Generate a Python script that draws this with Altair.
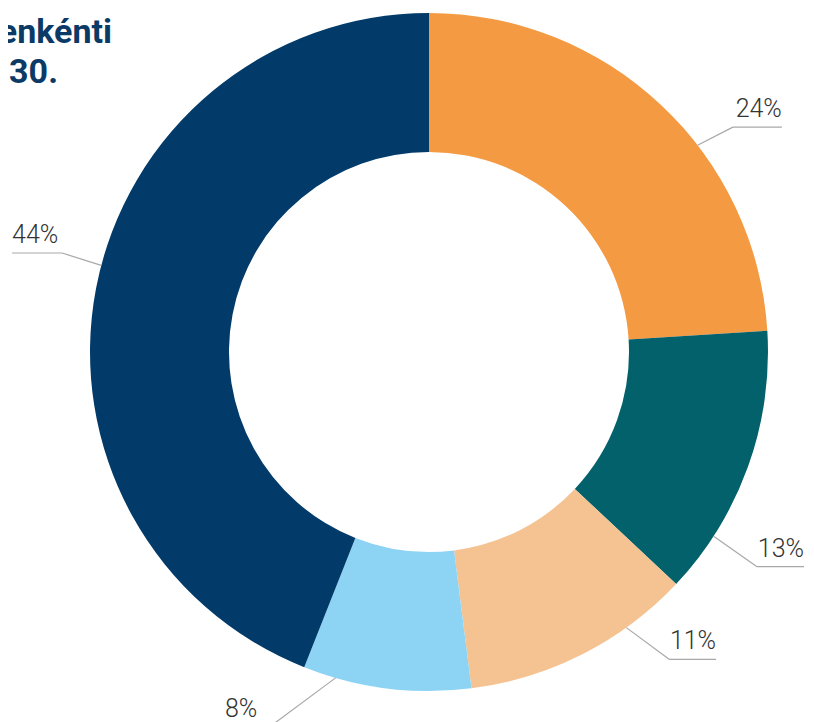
import altair as alt
import pandas as pd
import numpy as np

# ---- data ----
segments = ["1", "2", "3", "4", "5"]
shares = [24, 13, 11, 8, 44]
labels = ["24%", "13%", "11%", "8%", "44%"]
colors = ["#F49A42", "#03616B", "#F5C292", "#8DD4F4", "#023B69"]
title_lines = ["enkénti", ".30."]

# ---- layout (pixels inside the view) ----
W, H = 798, 714
CX, CY = 421, 344
R_OUT, R_IN = 339, 200
leader_start_deg = [52.4, 122.9, 144.4, 196.0, 284.8]
leader_elbow_deg = [53.5, 123.2, 142.0, 203.0, 285.1]
leader_elbow_r = [378, 392, 390, 407, 380]
leader_len = [49, 47, 47, 45, 50]

df = pd.DataFrame({"seg": segments, "share": shares, "order": range(len(segments))})

rows, lbl = [], []
for i, lab in enumerate(labels):
    a1 = np.radians(leader_start_deg[i])
    a2 = np.radians(leader_elbow_deg[i])
    px, py = CX + R_OUT * np.sin(a1), CY - R_OUT * np.cos(a1)
    ex, ey = CX + leader_elbow_r[i] * np.sin(a2), CY - leader_elbow_r[i] * np.cos(a2)
    side = 1 if np.sin(a2) > 0 else -1
    hx = ex + side * leader_len[i]
    rows.append({"x": px, "y": py, "x2": ex, "y2": ey})
    rows.append({"x": ex, "y": ey, "x2": hx, "y2": ey})
    lbl.append({"x": hx, "y": ey - 10, "text": lab, "side": "right" if side > 0 else "left"})
lines_df = pd.DataFrame(rows)
lbl_df = pd.DataFrame(lbl)
title_df = pd.DataFrame({"x": [104, 50], "y": [35, 75], "text": title_lines})

xs = alt.Scale(domain=[0, W], nice=False, zero=False)
ys = alt.Scale(domain=[0, H], nice=False, zero=False, reverse=True)

arc = alt.Chart(df).mark_arc(outerRadius=R_OUT, innerRadius=R_IN).encode(
    theta=alt.Theta("share:Q", stack=True),
    order=alt.Order("order:Q"),
    color=alt.Color("seg:N", scale=alt.Scale(domain=segments, range=colors), legend=None),
    x=alt.value(CX),
    y=alt.value(CY),
)

leaders = alt.Chart(lines_df).mark_rule(color="#A8A8A8", strokeWidth=1.2).encode(
    x=alt.X("x:Q", scale=xs, axis=None),
    y=alt.Y("y:Q", scale=ys, axis=None),
    x2="x2:Q",
    y2="y2:Q",
)

txt_common = dict(font="Roboto", fontSize=25, fontWeight=300, color="#333333", baseline="alphabetic")
right_txt = alt.Chart(lbl_df).transform_filter("datum.side == 'right'").mark_text(align="right", **txt_common).encode(
    x=alt.X("x:Q", scale=xs, axis=None), y=alt.Y("y:Q", scale=ys, axis=None), text="text:N")
left_txt = alt.Chart(lbl_df).transform_filter("datum.side == 'left'").mark_text(align="left", **txt_common).encode(
    x=alt.X("x:Q", scale=xs, axis=None), y=alt.Y("y:Q", scale=ys, axis=None), text="text:N")

title = alt.Chart(title_df).mark_text(
    align="right", baseline="alphabetic", font="Roboto", fontSize=34, fontWeight="bold", color="#0B3A66"
).encode(x=alt.X("x:Q", scale=xs, axis=None), y=alt.Y("y:Q", scale=ys, axis=None), text="text:N")

chart = alt.layer(arc, leaders, right_txt, left_txt, title).properties(
    width=W, height=H, padding=0, autosize=alt.AutoSizeParams(type="none"), background="white"
).configure_view(stroke=None)

chart.save("out.html", embed_options={"renderer": "svg", "actions": False})
